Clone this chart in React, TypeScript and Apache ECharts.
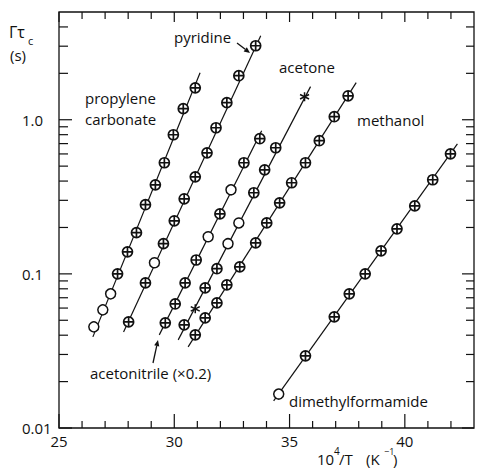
import React, { useEffect, useRef } from "react";
import * as echarts from "echarts";

// ---------- axes ----------
const X_MIN = 25;
const X_MAX = 43;
const Y_MIN = 0.01;
const Y_MAX = 5;
const xMajorTicks = [25, 30, 35, 40];
const xMinorTicks = [26, 27, 28, 29, 31, 32, 33, 34, 36, 37, 38, 39, 41, 42];
const yMajorTicks = [0.01, 0.1, 1];
const yMinorTicks = [0.02, 0.03, 0.04, 0.05, 0.06, 0.07, 0.08, 0.09, 0.2, 0.3, 0.4, 0.5, 0.6, 0.7, 0.8, 0.9, 2, 3, 4];
const yTickLabels: Record<string, string> = { "-2": "0.01", "-1": "0.1", "0": "1.0" };

// ---------- data: [10^4/T, tau_c (s)] ----------
// propylene carbonate
const propyleneOpen = [[26.51, 0.0453], [26.9, 0.0584], [27.24, 0.0742]];
const propyleneCrossed = [[27.54, 0.1], [27.97, 0.139], [28.36, 0.185], [28.75, 0.281], [29.18, 0.378], [29.57, 0.526], [29.96, 0.799], [30.39, 1.18], [30.91, 1.61]];
const propyleneFit = [[26.47, 0.039], [31.12, 2.02]];

// pyridine
const pyridineOpen = [[29.14, 0.118]];
const pyridineCrossed = [[28.02, 0.0488], [28.75, 0.0874], [29.53, 0.157], [30.0, 0.221], [30.43, 0.307], [30.91, 0.426], [31.42, 0.61], [31.81, 0.887], [32.28, 1.29], [32.8, 1.93], [33.53, 3.02]];
const pyridineFit = [[27.8, 0.042], [33.75, 3.51]];

// acetonitrile (x0.2)
const acetonitrileOpen = [[31.47, 0.174], [32.46, 0.351]];
const acetonitrileCrossed = [[29.61, 0.0481], [30.04, 0.0638], [30.47, 0.0874], [30.95, 0.123], [31.98, 0.245], [33.02, 0.526], [33.71, 0.753]];
const acetonitrileFit = [[29.35, 0.0402], [33.79, 0.848]];

// acetone
const acetoneOpen = [[32.33, 0.157], [32.8, 0.214]];
const acetoneCrossed = [[30.43, 0.0467], [31.34, 0.0811], [31.85, 0.108], [33.45, 0.336], [33.92, 0.473], [34.4, 0.658]];
const acetoneStar = [[30.91, 0.0593], [35.65, 1.41]];
const acetoneFit = [[30.17, 0.0373], [35.91, 1.64]];

// methanol
const methanolCrossed = [[30.91, 0.0402], [31.34, 0.0518], [31.85, 0.0648], [32.28, 0.0849], [32.84, 0.111], [33.53, 0.159], [34.01, 0.214], [34.57, 0.289], [35.09, 0.39], [35.69, 0.526], [36.29, 0.731], [36.94, 1.046], [37.54, 1.43]];
const methanolFit = [[30.6, 0.0336], [37.89, 1.74]];

// dimethylformamide
const dmfOpen = [[34.53, 0.0166]];
const dmfCrossed = [[35.69, 0.0294], [36.94, 0.0526], [37.59, 0.0742], [38.28, 0.1], [38.97, 0.141], [39.66, 0.196], [40.43, 0.276], [41.21, 0.408], [41.98, 0.601]];
const dmfFit = [[34.31, 0.015], [42.28, 0.698]];

const fits = [propyleneFit, pyridineFit, acetonitrileFit, acetoneFit, methanolFit, dmfFit];
const openPts = [...propyleneOpen, ...pyridineOpen, ...acetonitrileOpen, ...acetoneOpen, ...dmfOpen];
const crossedPts = [...propyleneCrossed, ...pyridineCrossed, ...acetonitrileCrossed, ...acetoneCrossed, ...methanolCrossed, ...dmfCrossed];
const starPts = [...acetoneStar];

const INK = "#111111";
const FONT = "'Open Sans', 'DejaVu Sans', sans-serif";

function arrow(x1: number, y1: number, x2: number, y2: number) {
  const dx = x2 - x1, dy = y2 - y1;
  const L = Math.hypot(dx, dy);
  const ux = dx / L, uy = dy / L;
  const bx = x2 - ux * 6, by = y2 - uy * 6;
  const px = -uy * 2.6, py = ux * 2.6;
  return [
    { type: "line", shape: { x1, y1, x2: bx, y2: by }, style: { stroke: INK, lineWidth: 1.3 } },
    { type: "polygon", shape: { points: [[x2, y2], [bx + px, by + py], [bx - px, by - py]] }, style: { fill: INK } },
  ];
}

function txt(text: string, x: number, y: number, size = 15) {
  return {
    type: "text",
    x,
    y,
    style: { text, fill: INK, font: `400 ${size}px ${FONT}`, textAlign: "left", textVerticalAlign: "middle" },
  };
}

export default function App() {
  const ref = useRef<HTMLDivElement>(null);
  useEffect(() => {
    if (!ref.current) return;
    const chart = echarts.init(ref.current, null, { renderer: "svg" });
    const tickStyle = { stroke: INK, lineWidth: 1.2 };
    const option: any = {
      animation: false,
      backgroundColor: "#ffffff",
      grid: { left: 59, right: 1, top: 12, bottom: 42, show: true, borderColor: INK, borderWidth: 1.3, backgroundColor: "transparent" },
      xAxis: {
        type: "value",
        min: X_MIN,
        max: X_MAX,
        interval: 5,
        axisLine: { show: false },
        axisTick: { show: false },
        splitLine: { show: false },
        axisLabel: {
          margin: 5,
          fontSize: 15,
          fontFamily: FONT,
          color: INK,
          formatter: (v: number) => (xMajorTicks.includes(v) ? String(v) : ""),
        },
      },
      yAxis: {
        type: "log",
        logBase: 10,
        min: Y_MIN,
        max: Y_MAX,
        axisLine: { show: false },
        axisTick: { show: false },
        splitLine: { show: false },
        minorTick: { show: false },
        axisLabel: {
          align: "left",
          margin: 37,
          fontSize: 15,
          fontFamily: FONT,
          color: INK,
          formatter: (v: number) => {
            const e = Math.log10(v);
            const r = Math.round(e);
            if (Math.abs(e - r) > 1e-6) return "";
            return yTickLabels[String(r)] ?? "";
          },
        },
      },
      series: [
        {
          type: "custom",
          coordinateSystem: "cartesian2d",
          silent: true,
          z: 1,
          data: [...xMajorTicks.map((v) => [v, Y_MIN, 1]), ...xMinorTicks.map((v) => [v, Y_MIN, 0])],
          renderItem: (_p: any, api: any) => {
            const v = api.value(0);
            const len = api.value(2) ? 14 : 7;
            const b = api.coord([v, Y_MIN]);
            const t = api.coord([v, Y_MAX]);
            return {
              type: "group",
              children: [
                { type: "line", shape: { x1: b[0], y1: b[1], x2: b[0], y2: b[1] - len }, style: tickStyle },
                { type: "line", shape: { x1: t[0], y1: t[1], x2: t[0], y2: t[1] + (api.value(2) ? 10 : 7) }, style: tickStyle },
              ],
            };
          },
        },
        {
          type: "custom",
          coordinateSystem: "cartesian2d",
          silent: true,
          z: 1,
          data: [...yMajorTicks.map((v) => [X_MIN, v, 1]), ...yMinorTicks.map((v) => [X_MIN, v, 0])],
          renderItem: (_p: any, api: any) => {
            const v = api.value(1);
            const major = api.value(2);
            const l = api.coord([X_MIN, v]);
            const r = api.coord([X_MAX, v]);
            return {
              type: "group",
              children: [
                { type: "line", shape: { x1: l[0], y1: l[1], x2: l[0] + (major ? 13 : 9), y2: l[1] }, style: tickStyle },
                { type: "line", shape: { x1: r[0], y1: r[1], x2: r[0] - (major ? 12 : 8), y2: r[1] }, style: tickStyle },
              ],
            };
          },
        },
        ...fits.map((f) => ({
          type: "line",
          data: f,
          symbol: "none",
          silent: true,
          z: 2,
          lineStyle: { color: INK, width: 1.2 },
        })),
        {
          type: "scatter",
          data: crossedPts,
          z: 3,
          symbol: "path://M0,-10A10,10 0 1,1 0,10A10,10 0 1,1 0,-10Z M-10,0L10,0 M0,-10L0,10",
          symbolSize: 10,
          itemStyle: { color: "#ffffff", borderColor: INK, borderWidth: 1.7, opacity: 1 },
        },
        {
          type: "scatter",
          data: openPts,
          z: 3,
          symbol: "circle",
          symbolSize: 10,
          itemStyle: { color: "#ffffff", borderColor: INK, borderWidth: 1.5, opacity: 1 },
        },
        {
          type: "scatter",
          data: starPts,
          z: 3,
          symbol: "path://M0,-10L0,10M-8.7,-5L8.7,5M-8.7,5L8.7,-5",
          symbolSize: 9,
          itemStyle: { color: INK, borderColor: INK, borderWidth: 1.5, opacity: 1 },
        },
      ],
      graphic: [
        txt("propylene", 85, 98),
        txt("carbonate", 85, 119),
        txt("pyridine", 174, 37),
        txt("acetone", 279, 67),
        txt("methanol", 357, 120),
        txt("acetonitrile (×0.2)", 90, 373),
        txt("dimethylformamide", 289, 401),
        txt("Γτ", 9, 32, 16),
        txt("c", 28, 40, 11),
        txt("(s)", 10, 55, 15),
        txt("10", 317, 459),
        txt("4", 334, 451, 10),
        txt("/T", 339, 459),
        txt("(K", 366, 459),
        txt("−1", 384, 451, 9),
        txt(")", 393, 459),
        ...arrow(237, 43, 250, 53),
        ...arrow(153, 363, 158, 340),
      ],
    };
    chart.setOption(option);
    return () => chart.dispose();
  }, []);
  return <div ref={ref} style={{ position: "fixed", left: 0, top: 0, width: 477, height: 470 }} />;
}
